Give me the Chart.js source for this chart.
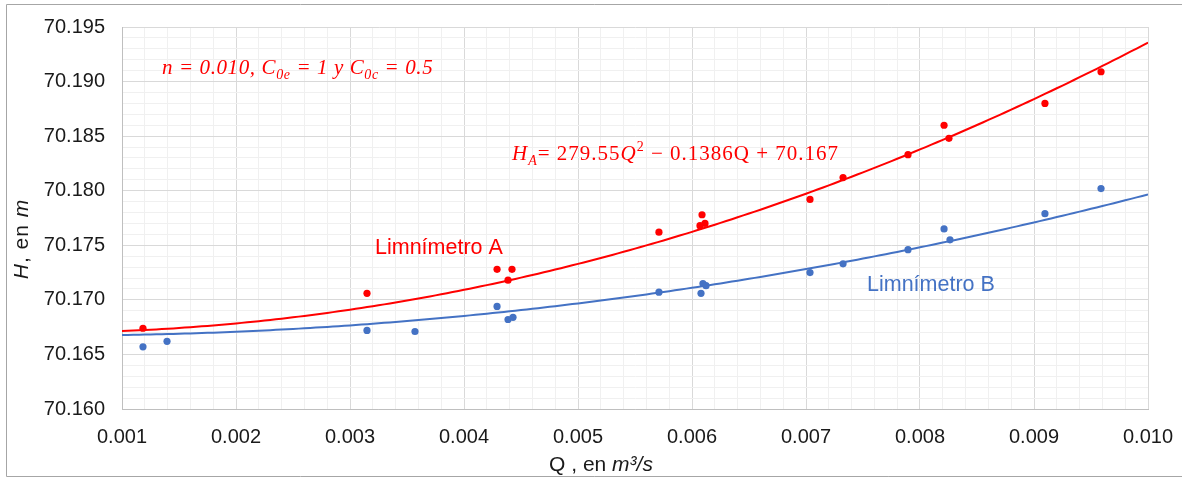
<!DOCTYPE html>
<html>
<head>
<meta charset="utf-8">
<script src="https://cdn.jsdelivr.net/npm/chart.js@4.4.1/dist/chart.umd.min.js"></script>
<style>
  html, body { margin: 0; padding: 0; background: #ffffff; }
  #wrap { width: 1182px; height: 478px; position: relative; }
</style>
</head>
<body>
<div id="wrap"><canvas id="c" width="1182" height="478"></canvas></div>
<script>
// Caudal Q (m3/s) y lectura H (m) del limnímetro A
const qA = [0.001184, 0.003149, 0.004290, 0.004421, 0.004386, 0.005710, 0.006070, 0.006088,
            0.006114, 0.007035, 0.007325, 0.007895, 0.008211, 0.008254, 0.009096, 0.009588];
const hA = [70.1674, 70.1706, 70.1728, 70.1728, 70.1718, 70.1762, 70.1768, 70.1778,
            70.1770, 70.1792, 70.1812, 70.1833, 70.1860, 70.1848, 70.1880, 70.1909];

// Caudal Q (m3/s) y lectura H (m) del limnímetro B
const qB = [0.001184, 0.001395, 0.003149, 0.003570, 0.004290, 0.004386, 0.004430, 0.005710, 0.006079,
            0.006096, 0.006123, 0.007035, 0.007325, 0.007895, 0.008211, 0.008263, 0.009096, 0.009588];
const hB = [70.1657, 70.1662, 70.1672, 70.1671, 70.1694, 70.1682, 70.1684, 70.1707, 70.1706,
            70.1715, 70.1713, 70.1725, 70.1733, 70.1746, 70.1765, 70.1755, 70.1779, 70.1802];

// Coeficientes de las líneas de tendencia polinómicas [Q², Q, término independiente]
const fitA = [279.55, -0.1386, 70.167];
const fitB = [141.3, -0.1234, 70.16676];

// Etiquetas de los ejes
const xTickLabels = ['0.001', '0.002', '0.003', '0.004', '0.005', '0.006', '0.007', '0.008', '0.009', '0.010'];
const yTickLabels = ['70.160', '70.165', '70.170', '70.175', '70.180', '70.185', '70.190', '70.195'];

const RED = '#FF0000';
const BLUE = '#4472C4';
const GRID_MAJOR = '#d9d9d9';
const GRID_MINOR = '#f0f0f0';
const TEXT = '#1a1a1a';

const xMin = 0.001, xMax = 0.010, yMin = 70.160, yMax = 70.195;

function pairs(xs, ys) { return xs.map((x, i) => ({ x: x, y: ys[i] })); }

// Curva de tendencia evaluada a lo largo del eje Q
function trend(c) {
  const pts = [];
  for (let k = 0; k <= 180; k++) {
    const q = xMin + (xMax - xMin) * k / 180;
    pts.push({ x: q, y: c[0] * q * q + c[1] * q + c[2] });
  }
  return pts;
}

// Escribe una secuencia de fragmentos con estilos distintos
function drawRuns(ctx, x, y, runs, align, spacing) {
  ctx.letterSpacing = (spacing || 0) + 'px';
  let total = 0;
  runs.forEach(r => { ctx.font = r.font; total += ctx.measureText(r.t).width + (r.gap || 0); });
  let cx = align === 'center' ? x - total / 2 : x;
  runs.forEach(r => {
    ctx.font = r.font;
    ctx.fillText(r.t, cx, y + (r.dy || 0));
    cx += ctx.measureText(r.t).width + (r.gap || 0);
  });
  ctx.letterSpacing = '0px';
}

const SANS = '"Liberation Sans", Arial, sans-serif';
const SERIF = '"Liberation Serif", "Times New Roman", serif';

const decor = {
  id: 'decor',
  beforeDraw(chart) {
    const ctx = chart.ctx;
    ctx.save();
    ctx.fillStyle = '#ffffff';
    ctx.fillRect(0, 0, chart.width, chart.height);
    ctx.restore();
  },
  afterDraw(chart) {
    const ctx = chart.ctx;
    ctx.save();

    // marco exterior
    ctx.strokeStyle = '#a6a6a6';
    ctx.lineWidth = 1;
    ctx.beginPath();
    ctx.moveTo(1182, 4.5);
    ctx.lineTo(6.5, 4.5);
    ctx.lineTo(6.5, 476.5);
    ctx.lineTo(1182, 476.5);
    ctx.stroke();

    ctx.textBaseline = 'alphabetic';
    ctx.textAlign = 'left';

    // parámetros del ensayo
    ctx.fillStyle = RED;
    const fi = 'italic 21px ' + SERIF;
    const fs = 'italic 14px ' + SERIF;
    drawRuns(ctx, 162, 74, [
      { t: 'n = 0.010, C', font: fi },
      { t: '0e', font: fs, dy: 5 },
      { t: ' = 1 y C', font: fi },
      { t: '0c', font: fs, dy: 5 },
      { t: ' = 0.5', font: fi }
    ], 'left', 0.6);

    // ecuación de la tendencia A
    const fu = '21px ' + SERIF;
    drawRuns(ctx, 512, 160, [
      { t: 'H', font: fi },
      { t: 'A', font: fs, dy: 5 },
      { t: '= 279.55', font: fu },
      { t: 'Q', font: fi },
      { t: '2', font: '14px ' + SERIF, dy: -9 },
      { t: ' \u2212 0.1386Q + 70.167', font: fu }
    ], 'left', 1);

    // rótulos de las series
    ctx.font = '21.5px ' + SANS;
    ctx.fillStyle = RED;
    ctx.fillText('Limnímetro A', 375, 254);
    ctx.fillStyle = BLUE;
    ctx.fillText('Limnímetro B', 867, 291);

    // títulos de los ejes
    ctx.fillStyle = TEXT;
    drawRuns(ctx, 601, 471, [
      { t: 'Q , en ', font: '21px ' + SANS },
      { t: 'm³/s', font: 'italic 21px ' + SANS }
    ], 'center');

    ctx.translate(28, 239);
    ctx.rotate(-Math.PI / 2);
    drawRuns(ctx, 0, 0, [
      { t: 'H', font: 'italic 21px ' + SANS },
      { t: ', en ', font: '21px ' + SANS },
      { t: 'm', font: 'italic 21px ' + SANS }
    ], 'center', 1);

    ctx.restore();
  }
};

const gridColor = c => (c.index % 5 === 0 ? GRID_MAJOR : GRID_MINOR);

new Chart(document.getElementById('c').getContext('2d'), {
  type: 'scatter',
  data: {
    datasets: [
      { label: 'Tendencia A', type: 'line', data: trend(fitA), borderColor: RED, borderWidth: 2,
        pointRadius: 0, fill: false, tension: 0, order: 2 },
      { label: 'Tendencia B', type: 'line', data: trend(fitB), borderColor: BLUE, borderWidth: 2,
        pointRadius: 0, fill: false, tension: 0, order: 2 },
      { label: 'Limnímetro A', data: pairs(qA, hA), backgroundColor: RED, borderColor: RED,
        borderWidth: 0, pointRadius: 3.6, order: 1 },
      { label: 'Limnímetro B', data: pairs(qB, hB), backgroundColor: BLUE, borderColor: BLUE,
        borderWidth: 0, pointRadius: 3.6, order: 1 }
    ]
  },
  options: {
    responsive: false,
    animation: false,
    events: [],
    layout: { padding: { left: 0, top: 27, right: 34, bottom: 0 } },
    plugins: { legend: { display: false }, tooltip: { enabled: false } },
    scales: {
      x: {
        type: 'linear', min: xMin, max: xMax,
        grid: { color: gridColor, drawTicks: false, lineWidth: 1 },
        border: { color: '#bfbfbf' },
        ticks: {
          stepSize: 0.0002, autoSkip: false, maxRotation: 0, padding: 16,
          color: TEXT, font: { family: SANS, size: 20 },
          callback: (v, i) => (i % 5 === 0 ? xTickLabels[i / 5] : '')
        },
        afterFit: s => { s.height = 69; s.paddingLeft = 0; s.paddingRight = 0; }
      },
      y: {
        type: 'linear', min: yMin, max: yMax,
        grid: { color: gridColor, drawTicks: false, lineWidth: 1 },
        border: { color: '#bfbfbf' },
        ticks: {
          stepSize: 0.001, autoSkip: false, padding: 17,
          color: TEXT, font: { family: SANS, size: 20 },
          callback: (v, i) => (i % 5 === 0 ? yTickLabels[i / 5] : '')
        },
        afterFit: s => { s.width = 122; s.paddingTop = 0; s.paddingBottom = 0; }
      }
    }
  },
  plugins: [decor]
});
</script>
</body>
</html>
